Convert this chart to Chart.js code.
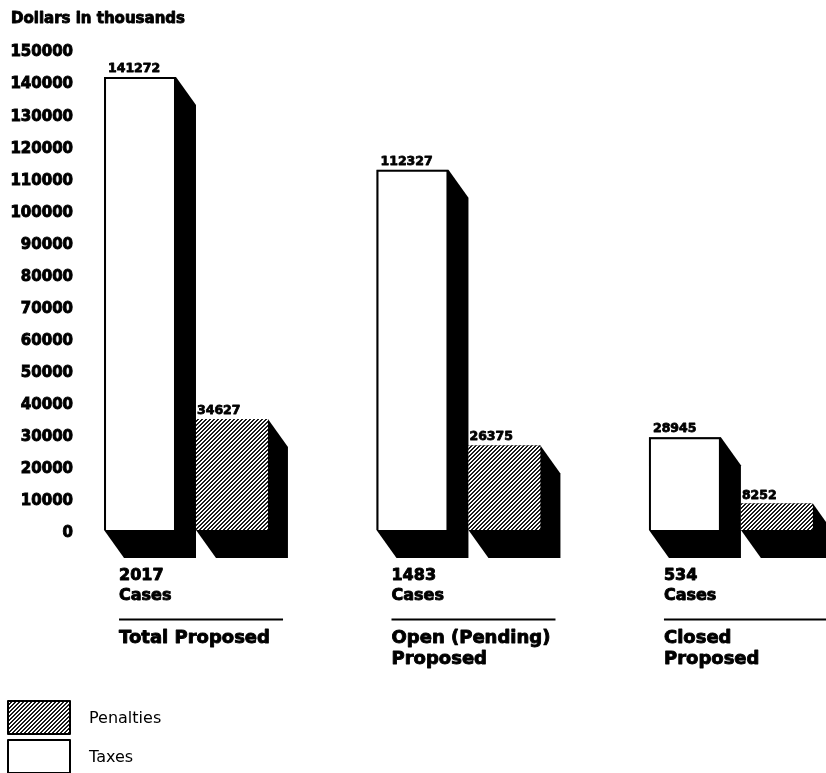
<!DOCTYPE html>
<html>
<head>
<meta charset="utf-8">
<title>Proposed Taxes and Penalties</title>
<script src="https://cdn.jsdelivr.net/npm/chart.js@4.4.0/dist/chart.umd.min.js"></script>
<style>
  html, body { margin: 0; padding: 0; background: #fff; }
  #wrap { position: relative; width: 826px; height: 773px; }
</style>
</head>
<body>
<div id="wrap"><canvas id="myChart"></canvas></div>
<script>
// dollars in thousands
var groupNames = [['Total Proposed'], ['Open (Pending)', 'Proposed'], ['Closed', 'Proposed']];
var caseCounts = [2017, 1483, 534];
var taxes = [141272, 112327, 28945];
var penalties = [34627, 26375, 8252];
var yMax = 150000;
var yStep = 10000;

var depthX = 20, depthY = 28;

function makeHatch() {
  var c = document.createElement('canvas');
  c.width = 4; c.height = 4;
  var g = c.getContext('2d');
  g.fillStyle = '#fff';
  g.fillRect(0, 0, 4, 4);
  g.fillStyle = '#1a1a1a';
  for (var y = 0; y < 4; y++) {
    for (var x = 0; x < 4; x++) {
      if ((x + y) % 4 < 2 || (x === 2 && y === 3)) g.fillRect(x, y, 1, 1);
    }
  }
  return g.createPattern(c, 'repeat');
}
var hatch = makeHatch();

// heavy text: fill plus a thin outline
function heavyText(ctx, str, x, y, w) {
  ctx.lineWidth = w;
  ctx.strokeText(str, x, y);
  ctx.fillText(str, x, y);
}

// black depth block behind every bar
var extrude = {
  id: 'extrude',
  beforeDatasetsDraw: function(chart) {
    var ctx = chart.ctx;
    ctx.save();
    ctx.fillStyle = '#000';
    chart.data.datasets.forEach(function(ds, di) {
      chart.getDatasetMeta(di).data.forEach(function(bar) {
        var l = bar.x - bar.width / 2, r = bar.x + bar.width / 2, t = bar.y, b = bar.base;
        ctx.beginPath();
        ctx.moveTo(l, t);
        ctx.lineTo(r, t);
        ctx.lineTo(r + depthX, t + depthY);
        ctx.lineTo(r + depthX, b + depthY);
        ctx.lineTo(l + depthX, b + depthY);
        ctx.lineTo(l, b);
        ctx.closePath();
        ctx.fill();
      });
    });
    ctx.restore();
  }
};

var annotate = {
  id: 'annotate',
  afterDatasetsDraw: function(chart) {
    var ctx = chart.ctx;
    ctx.save();
    ctx.fillStyle = '#000';
    ctx.strokeStyle = '#000';
    ctx.lineJoin = 'round';
    ctx.textAlign = 'left';

    // title
    ctx.font = 'bold 15px "DejaVu Sans"';
    ctx.textBaseline = 'middle';
    heavyText(ctx, 'Dollars in thousands', 11, 19, 0.9);

    // values over the bars
    ctx.font = 'bold 12.5px "DejaVu Sans"';
    ctx.textBaseline = 'alphabetic';
    chart.data.datasets.forEach(function(ds, di) {
      chart.getDatasetMeta(di).data.forEach(function(bar, i) {
        var l = bar.x - bar.width / 2;
        heavyText(ctx, String(ds.data[i].y), l + (di === 0 ? 4 : 1), bar.y - 5, 0.8);
      });
    });

    // case counts, rule and group names
    var taxMeta = chart.getDatasetMeta(0);
    ctx.textBaseline = 'middle';
    taxMeta.data.forEach(function(bar, i) {
      var x0 = bar.x - bar.width / 2 + 15;
      ctx.font = 'bold 16px "DejaVu Sans"';
      heavyText(ctx, String(caseCounts[i]), x0, 576, 0.9);
      heavyText(ctx, 'Cases', x0, 596, 0.9);
      ctx.lineWidth = 2;
      ctx.beginPath();
      ctx.moveTo(x0, 619.5);
      ctx.lineTo(x0 + 164, 619.5);
      ctx.stroke();
      ctx.font = 'bold 18px "DejaVu Sans"';
      groupNames[i].forEach(function(line, k) {
        heavyText(ctx, line, x0, 638 + k * 21, 0.9);
      });
    });

    // legend
    var legendItems = [
      { label: chart.data.datasets[1].label, fill: chart.data.datasets[1].backgroundColor },
      { label: chart.data.datasets[0].label, fill: chart.data.datasets[0].backgroundColor }
    ];
    ctx.font = '16px "DejaVu Sans"';
    legendItems.forEach(function(item, k) {
      var top = 701 + k * 39;
      ctx.fillStyle = item.fill;
      ctx.fillRect(8, top, 62, 33);
      ctx.lineWidth = 2;
      ctx.strokeStyle = '#000';
      ctx.strokeRect(8, top, 62, 33);
      ctx.fillStyle = '#000';
      ctx.fillText(item.label, 89, top + 18);
    });
    ctx.restore();
  }
};

var ctx = document.getElementById('myChart');
new Chart(ctx, {
  type: 'bar',
  data: {
    datasets: [{
      label: 'Taxes',
      data: taxes.map(function(v, i) { return { x: i, y: v }; }),
      backgroundColor: '#fff',
      borderColor: '#000',
      borderWidth: 2
    }, {
      label: 'Penalties',
      data: penalties.map(function(v, i) { return { x: i, y: v }; }),
      backgroundColor: hatch,
      borderWidth: 0
    }]
  },
  options: {
    responsive: true,
    maintainAspectRatio: false,
    animation: false,
    categoryPercentage: 0.675,
    barPercentage: 0.7826,
    layout: { padding: { top: 49, bottom: 243, left: 0, right: 0 } },
    plugins: {
      legend: { display: false },
      tooltip: { enabled: false }
    },
    scales: {
      x: {
        type: 'linear',
        display: false,
        offset: false,
        min: -0.389,
        max: 2.349,
        afterBuildTicks: function(scale) {
          scale.ticks = groupNames.map(function(n, i) { return { value: i }; });
        }
      },
      y: {
        min: 0,
        max: yMax,
        grid: { display: false, drawTicks: false },
        border: { display: false },
        afterFit: function(scale) { scale.width = 80; },
        ticks: {
          stepSize: yStep,
          padding: 7,
          labelOffset: 3.5,
          color: '#000',
          textStrokeColor: '#000',
          textStrokeWidth: 0.9,
          font: { family: 'DejaVu Sans', weight: 'bold', size: 15 },
          callback: function(v) { return String(v); }
        }
      }
    }
  },
  plugins: [extrude, annotate]
});
</script>
</body>
</html>
